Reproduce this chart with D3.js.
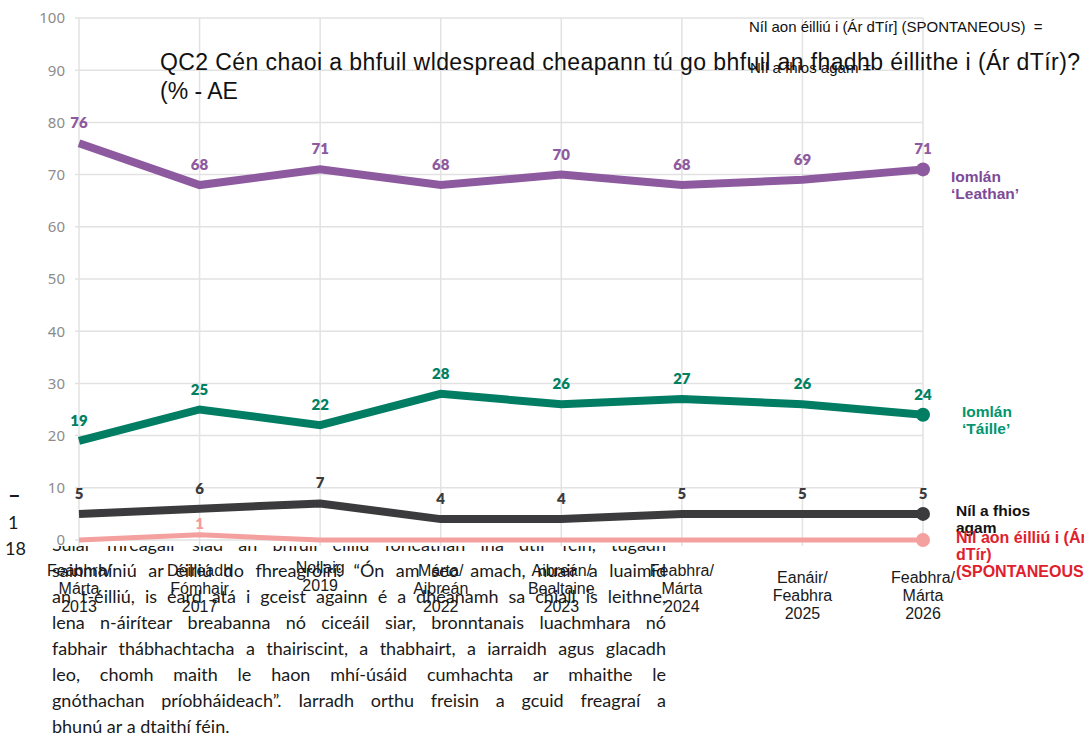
<!DOCTYPE html>
<html><head><meta charset="utf-8">
<script src="https://cdn.jsdelivr.net/npm/d3@7"></script>
<style>body{margin:0;background:#fff}svg{display:block}</style>
</head><body>
<svg id="c" width="1084" height="738"></svg>
<script>
// ---- data ----
const categories = [
  ["Feabhra/","Márta","2013"],
  ["Deireadh","Fómhair","2017"],
  ["Nollaig","2019"],
  ["Márta/","Aibreán","2022"],
  ["Aibreán/","Bealtaine","2023"],
  ["Feabhra/","Márta","2024"],
  ["Eanáir/","Feabhra","2025"],
  ["Feabhra/","Márta","2026"]
];
const leathan = [76, 68, 71, 68, 70, 68, 69, 71];
const taille  = [19, 25, 22, 28, 26, 27, 26, 24];
const nilFhios = [5, 6, 7, 4, 4, 5, 5, 5];
const nilEilliu = [0, 1, 0, 0, 0, 0, 0, 0];
const seriesNames = [
  ["Iomlán","‘Leathan’"],
  ["Iomlán","‘Táille’"],
  ["Níl a fhios","agam"],
  ["Níl aon éilliú i (Ár","dTír)","(SPONTANEOUS)"]
];
const yTicks = [0,10,20,30,40,50,60,70,80,90,100];
const titleLines = ["QC2 Cén chaoi a bhfuil wldespread cheapann tú go bhfuil an fhadhb éillithe i (Ár dTír)?","(% - AE"];
const headerNote1 = "Níl aon éilliú i (Ár dTír] (SPONTANEOUS)  =";
const headerNote2 = "Níl a fhios agam =";
const paragraph = [
  "Sular fhreagair siad an bhfuil éilliú forleathan ina dtír féin, tugadh",
  "sainmhíniú ar éilliú do fhreagróirí: “Ón am seo amach, nuair a luaimid",
  "an t-éilliú, is éard atá i gceist againn é a dhéanamh sa chiall is leithne,",
  "lena n-áirítear breabanna nó ciceáil siar, bronntanais luachmhara nó",
  "fabhair thábhachtacha a thairiscint, a thabhairt, a iarraidh agus glacadh",
  "leo, chomh maith le haon mhí-úsáid cumhachta ar mhaithe le",
  "gnóthachan príobháideach”. Iarradh orthu freisin a gcuid freagraí a",
  "bhunú ar a dtaithí féin."
];
const marginText = ["–","1","18"];

// ---- drawing ----
const svg = d3.select("#c");
const W = 1084, H = 738;
const ARIAL = "'Liberation Sans', Arial, sans-serif";

// document paragraph (behind chart), justified by word spacing
const para = svg.append("g").attr("font-family","Lato, 'Noto Sans', sans-serif").attr("font-size",18).attr("fill","#1a1a1a");
const PX = 52, PW = 614;
paragraph.forEach((t,i)=>{
  const yy = 551 + i*26;
  const words = t.split(" ");
  const nodes = words.map(w => para.append("text").attr("y",yy).text(w));
  const widths = nodes.map(n => n.node().getComputedTextLength());
  const total = d3.sum(widths);
  const last = i === paragraph.length-1;
  const gap = last ? 4.5 : (PW - total)/(words.length-1);
  let cx = PX;
  nodes.forEach((n,k)=>{ n.attr("x",cx); cx += widths[k] + gap; });
});
const marg = svg.append("g").attr("font-family","Lato, 'Noto Sans', sans-serif").attr("fill","#1a1a1a");
marginText.forEach((t,i)=>{
  marg.append("text").attr("x",i===2?5:8).attr("y",503 + i*26)
    .attr("font-size", i===0?22:18).attr("font-weight", i===0?700:400).text(t);
});

// chart background covering the top of the paragraph
svg.append("rect").attr("x",40).attr("y",0).attr("width",W-40).attr("height",546).attr("fill","#fff");

const x = d3.scalePoint().domain(d3.range(categories.length)).range([79,923]);
const y = d3.scaleLinear().domain([0,100]).range([540,18]);

// grid
const grid = svg.append("g");
grid.selectAll("line.h").data(yTicks).join("line")
  .attr("x1",75).attr("x2",923).attr("y1",d=>y(d)).attr("y2",d=>y(d))
  .attr("stroke","#e2e2e2").attr("stroke-width",1.5);
grid.selectAll("line.v").data(d3.range(categories.length)).join("line")
  .attr("x1",d=>x(d)).attr("x2",d=>x(d)).attr("y1",y(100)).attr("y2",546)
  .attr("stroke","#e2e2e2").attr("stroke-width",1.5);

// y axis
const yAxis = d3.axisLeft(y).tickValues(yTicks).tickSize(0).tickPadding(0);
const ya = svg.append("g").attr("transform","translate(65,0)").call(yAxis);
ya.select(".domain").remove();
ya.selectAll("text").attr("font-family","'Noto Sans', sans-serif").attr("font-size",15).attr("fill","#8c8c8c");

// title & header notes
const tt = svg.append("g").attr("font-family",ARIAL).attr("font-size",23).attr("fill","#111");
titleLines.forEach((t,i)=>{
  const tx = tt.append("text").attr("x",160).attr("y",70 + i*29).text(t);
  if (i===0) tx.attr("textLength",920).attr("lengthAdjust","spacing");
});
svg.append("text").attr("x",749).attr("y",32).attr("font-family",ARIAL).attr("font-size",15).attr("fill","#111")
  .style("white-space","pre").text(headerNote1);
svg.append("text").attr("x",750).attr("y",73).attr("font-family",ARIAL).attr("font-size",15).attr("fill","#111").text(headerNote2);

// series
const series = [
  {vals:leathan, color:"#8e5a9f", label:"#8e5a9f", w:8, name:seriesNames[0], nx:28, ny:13, nc:"#7d4a97", ld:15, fs:15.5},
  {vals:taille, color:"#007d63", label:"#00805f", w:8, name:seriesNames[1], nx:39, ny:2, nc:"#00956e", ld:15, fs:15.5},
  {vals:nilFhios, color:"#3b3b3d", label:"#3b3b3d", w:8, name:seriesNames[2], nx:33, ny:2, nc:"#111", ld:15, fs:15.5},
  {vals:nilEilliu, color:"#f4a09f", label:"#f59a9a", w:5, name:seriesNames[3], nx:33, ny:3, nc:"#e0202c", ld:6, fs:16}
];
const line = d3.line().x((d,i)=>x(i)).y(d=>y(d));
series.forEach(s=>{
  svg.append("path").attr("d",line(s.vals)).attr("fill","none")
    .attr("stroke",s.color).attr("stroke-width",s.w).attr("stroke-linejoin","miter");
  const li = s.vals.length-1;
  svg.append("circle").attr("cx",x(li)).attr("cy",y(s.vals[li])).attr("r",7).attr("fill",s.color);
  svg.append("g").selectAll("text").data(s.vals.map((v,i)=>({v,i})).filter(d=>d.v>0)).join("text")
    .attr("x",d=>x(d.i)).attr("y",d=>y(d.v)-s.ld)
    .attr("text-anchor","middle").attr("font-family","Lato, 'Noto Sans', sans-serif")
    .attr("font-weight",800).attr("font-size",15).attr("fill",s.label).text(d=>d.v);
});

// x labels
const xl = svg.append("g").attr("font-family",ARIAL).attr("font-size",16).attr("fill","#1a1a1a").attr("text-anchor","middle");
categories.forEach((lines,i)=>{
  const base = i>=6 ? 583 : (lines.length===2 ? 573 : 576);
  lines.forEach((t,j)=> xl.append("text").attr("x",x(i)).attr("y",base + j*18).text(t));
});

// series end labels
series.forEach(s=>{
  const li = s.vals.length-1;
  const g = svg.append("g").attr("font-family",ARIAL).attr("font-size",s.fs).attr("font-weight",700).attr("fill",s.nc);
  s.name.forEach((t,j)=> g.append("text").attr("x",x(li)+s.nx).attr("y",y(s.vals[li])+s.ny + j*17).text(t));
});
</script>
</body></html>
